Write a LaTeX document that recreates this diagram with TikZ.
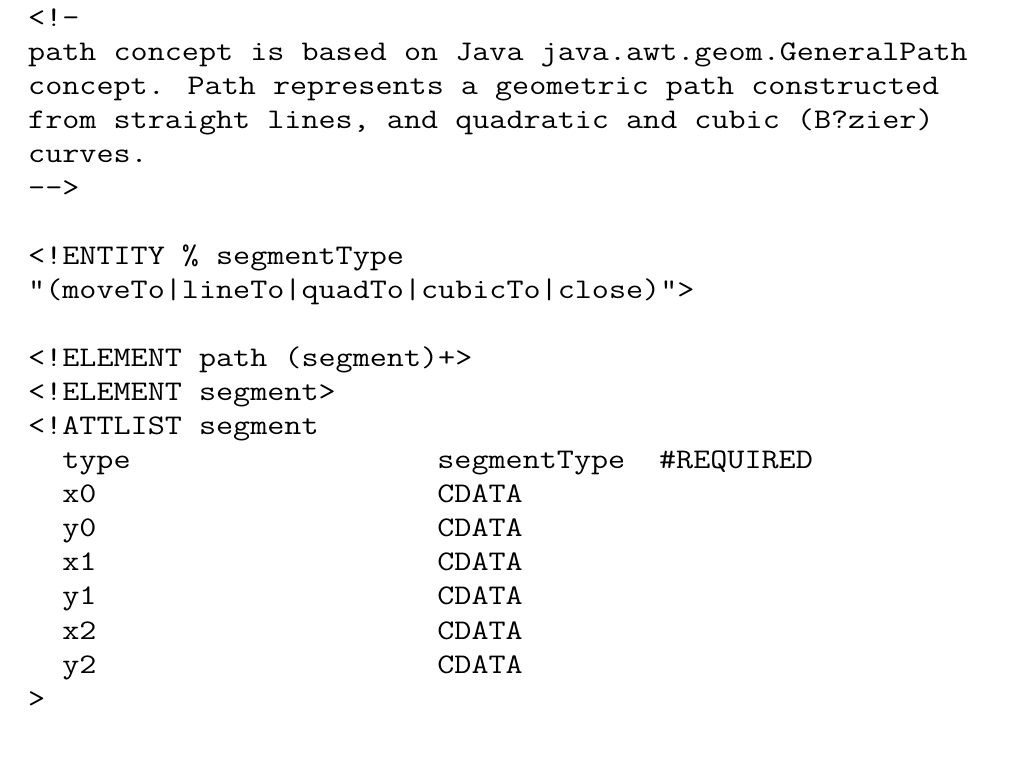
\documentclass[tikz,border=0pt]{standalone}
\usepackage{fontspec}
\newfontfamily\codefont{Latin Modern Mono}[FakeStretch=1.168]
\tikzset{codeline/.style={anchor=base west,inner sep=0pt,font=\codefont\fontsize{28.4}{34}\selectfont}}
\begin{document}
\begin{tikzpicture}[x=1pt,y=1pt]
\useasboundingbox (0,0) rectangle (1024,768);
\node[codeline] (open) at (28,741) {<!–};
\node[codeline] (text1) at (28,707) {path concept is based on Java java.awt.geom.GeneralPath};
\node[codeline] (text2) at (28,673) {concept. Path represents a geometric path constructed};
\node[codeline] (text3) at (28,639) {from straight lines, and quadratic and cubic (B?zier)};
\node[codeline] (text4) at (28,605) {curves.};
\node[codeline] (close) at (28,571) {{-}{-}>};
\node[codeline] (entity) at (28,503) {<!ENTITY \% segmentType};
\node[codeline] (enum) at (28,469) {"(moveTo|lineTo|quadTo|cubicTo|close)">};
\node[codeline] (elpath) at (28,401) {<!ELEMENT path (segment)+>};
\node[codeline] (elseg) at (28,367) {<!ELEMENT segment>};
\node[codeline] (attlist) at (28,333) {<!ATTLIST segment};
\node[codeline] (att0) at (62.1,299) {type};
\node[codeline] (typ0) at (437.2,299) {segmentType};
\node[codeline] (req0) at (658.9,299) {\#REQUIRED};
\foreach \name [count=\i] in {x0,y0,x1,y1,x2,y2}
{
\node[codeline] (att\i) at (62.1,299-34*\i) {\name};
\node[codeline] (typ\i) at (437.2,299-34*\i) {CDATA};
}
\node[codeline] (attend) at (28,61) {>};
\end{tikzpicture}
\end{document}
